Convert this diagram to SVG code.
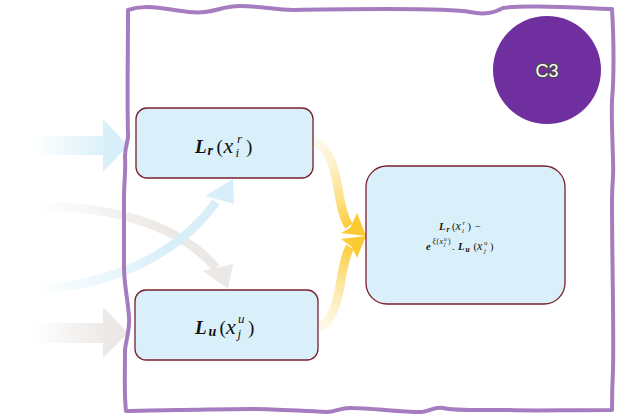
<svg xmlns="http://www.w3.org/2000/svg" width="623" height="417" viewBox="0 0 623 417">
<defs>
<style>
.box{fill:#d9f0fa;stroke:#7a1f2b;stroke-width:1.3}
.m{font-family:"Liberation Serif","DejaVu Serif",serif;fill:#111}
.bi{font-weight:bold;font-style:italic}
.it{font-style:italic}
.frame{fill:none;stroke:#a57cc0;stroke-width:4;stroke-linejoin:round}
</style>
<linearGradient id="gBlue" gradientUnits="userSpaceOnUse" x1="33" y1="0" x2="110" y2="0">
<stop offset="0" stop-color="#d8eff9" stop-opacity="0"/>
<stop offset="1" stop-color="#d8eff9"/>
</linearGradient>
<linearGradient id="gGray" gradientUnits="userSpaceOnUse" x1="33" y1="0" x2="110" y2="0">
<stop offset="0" stop-color="#ebe8e5" stop-opacity="0"/>
<stop offset="1" stop-color="#ebe8e5"/>
</linearGradient>
<linearGradient id="gGrayC" gradientUnits="userSpaceOnUse" x1="35" y1="0" x2="170" y2="0">
<stop offset="0" stop-color="#ebe8e5" stop-opacity="0"/>
<stop offset="1" stop-color="#ebe8e5"/>
</linearGradient>
<linearGradient id="gBlueC" gradientUnits="userSpaceOnUse" x1="33" y1="0" x2="170" y2="0">
<stop offset="0" stop-color="#d8eff9" stop-opacity="0"/>
<stop offset="1" stop-color="#d8eff9"/>
</linearGradient>
<linearGradient id="gY1" gradientUnits="userSpaceOnUse" x1="313" y1="141" x2="352" y2="228">
<stop offset="0" stop-color="#fdf1d4" stop-opacity="0.4"/>
<stop offset="1" stop-color="#fccb33"/>
</linearGradient>
<linearGradient id="gY2" gradientUnits="userSpaceOnUse" x1="318" y1="330" x2="352" y2="245">
<stop offset="0" stop-color="#fdf1d4" stop-opacity="0.4"/>
<stop offset="1" stop-color="#fccb33"/>
</linearGradient>
</defs>

<g id="connectors">
<path d="M33,136 H103 V119 L128,145.5 L103,172 V155 H33 Z" fill="url(#gBlue)"/>
<path d="M33,323 H103 V307 L128,333 L103,358 V343 H33 Z" fill="url(#gGray)"/>
<path d="M35,207 C110,205 180,225 216,268" fill="none" stroke="url(#gGrayC)" stroke-width="9"/>
<polygon points="203,271 228,289 233,264" fill="#ebe8e5"/>
<path d="M33,290 C110,286 178,255 216,202" fill="none" stroke="url(#gBlueC)" stroke-width="9"/>
<polygon points="205,196 233,179 234,204" fill="#d8eff9"/>
<path d="M312,141 C332,146 336,175 340,200 C343,214 345,221 349,226" fill="none" stroke="url(#gY1)" stroke-width="9"/>
<polygon points="357,213 366,236 341,233 350,228" fill="#fccb33"/>
<path d="M318,328 C333,322 338,300 341,280 C344,262 346,254 350,247" fill="none" stroke="url(#gY2)" stroke-width="9"/>
<polygon points="341,239 366,236 357,258 352,247" fill="#fccb33"/>
</g>

<path class="frame" d="M128,10 C140,6 150,7 160,8 C180,10 190,14 205,12 C220,10 225,6 240,6 C260,6 275,10 293,10 C330,9 360,9 387,9 C420,9 455,9 470,12 C485,15 493,13 503,8 C520,5 560,7 612,9 C614,40 614,80 612,100 C611,130 614,160 613,177 C612,190 612,195 612,200 C612,260 614,330 613,370 C612,390 612,400 612,410 C560,410 530,411 510,410 C480,410 455,411 443,408 C435,406 428,412 420,412 C400,412 370,408 350,408 C340,408 335,412 327,412 C300,411 275,409 253,409 C220,409 200,410 177,410 C160,410 140,411 126,411 C124,395 125,375 125,350 C126,340 130,330 129,317 C128,300 124,285 124,267 C124,240 124,220 124,200 C124,180 126,170 125,157 C125,145 129,140 128,133 C127,100 128,60 128,10 Z"/>

<g id="C3">
<circle cx="547" cy="70" r="54" fill="#6f2f9f"/>
<text x="547" y="77" text-anchor="middle" font-family="Liberation Sans, Arial, sans-serif" font-size="18" fill="#fff" stroke="#4a4a4a" stroke-width="2.5" paint-order="stroke">C3</text>
</g>

<g id="Lr">
<rect class="box" x="136" y="108" width="177" height="70" rx="11"/>
<text class="m" font-size="19"><tspan class="bi" x="195" y="153">L</tspan><tspan class="bi" font-size="14" x="207.5" y="155">r</tspan><tspan x="216.5" y="153">(</tspan><tspan class="it" font-size="22" x="223.5" y="153">x</tspan><tspan class="it" font-size="13" x="237" y="143">r</tspan><tspan class="it" font-size="13" x="235.5" y="157">i</tspan><tspan x="246" y="153">)</tspan></text>
</g>

<g id="Lu">
<rect class="box" x="135" y="290" width="183" height="70" rx="11"/>
<text class="m" font-size="19"><tspan class="bi" x="195" y="334">L</tspan><tspan class="bi" font-size="14" x="208.5" y="336">u</tspan><tspan x="219.5" y="334">(</tspan><tspan class="it" font-size="22" x="226" y="334">x</tspan><tspan class="it" font-size="13" x="238" y="323">u</tspan><tspan class="it" font-size="13" x="237.5" y="338">j</tspan><tspan x="248" y="334">)</tspan></text>
</g>

<g id="result">
<rect class="box" x="366" y="166" width="199" height="138" rx="21"/>
<text class="m" font-size="10.5"><tspan class="bi" x="439" y="230">L</tspan><tspan class="bi" font-size="7.5" x="446.5" y="231.5">r</tspan><tspan x="452" y="230">(</tspan><tspan class="it" font-size="12" x="455.5" y="230">x</tspan><tspan class="it" font-size="7" x="462.5" y="225">r</tspan><tspan class="it" font-size="7" x="462" y="232.5">i</tspan><tspan x="467.5" y="230">)</tspan><tspan x="475" y="230">−</tspan></text>
<text class="m" font-size="10.5"><tspan class="bi" x="426" y="250">e</tspan><tspan class="it" font-size="7.5" x="432.5" y="243.5">ξ</tspan><tspan font-size="7.5" x="436.5" y="243.5">(</tspan><tspan class="it" font-size="8" x="439.5" y="243.5">x</tspan><tspan class="it" font-size="5.5" x="444" y="240.5">u</tspan><tspan class="it" font-size="5.5" x="444" y="245.5">j</tspan><tspan font-size="7.5" x="448" y="243.5">)</tspan><tspan x="452" y="250">.</tspan><tspan class="bi" x="458" y="250">L</tspan><tspan class="bi" font-size="7.5" x="465.5" y="251.5">u</tspan><tspan x="473.5" y="250">(</tspan><tspan class="it" font-size="12" x="477" y="250">x</tspan><tspan class="it" font-size="7" x="484" y="244.5">u</tspan><tspan class="it" font-size="7" x="484" y="252.5">j</tspan><tspan x="490" y="250">)</tspan></text>
</g>
</svg>
